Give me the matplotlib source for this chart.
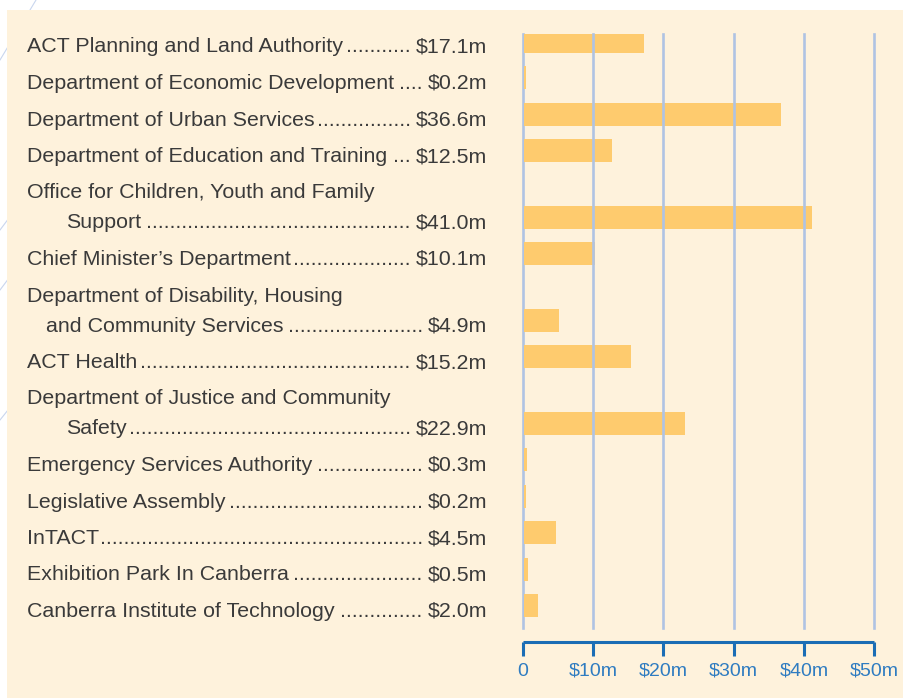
import matplotlib
matplotlib.use('Agg')
import matplotlib.pyplot as plt
from matplotlib.patches import Rectangle

# Agency names (a list entry per text line; bar sits on the last line)
agencies = [
    ['ACT Planning and Land Authority'],
    ['Department of Economic Development'],
    ['Department of Urban Services'],
    ['Department of Education and Training'],
    ['Office for Children, Youth and Family', 'Support'],
    ['Chief Minister\u2019s Department'],
    ['Department of Disability, Housing', 'and Community Services'],
    ['ACT Health'],
    ['Department of Justice and Community', 'Safety'],
    ['Emergency Services Authority'],
    ['Legislative Assembly'],
    ['InTACT'],
    ['Exhibition Park In Canberra'],
    ['Canberra Institute of Technology'],
]
indent = [0, 0, 0, 0, 39, 0, 19, 0, 39, 0, 0, 0, 0, 0]
values = [17.1, 0.2, 36.6, 12.5, 41.0, 10.1, 4.9, 15.2, 22.9, 0.3, 0.2, 4.5, 0.5, 2.0]
value_labels = ['$%.1fm' % v for v in values]
xticks = [0, 10, 20, 30, 40, 50]
xtick_labels = ['0', '$10m', '$20m', '$30m', '$40m', '$50m']

bg = '#fef2dc'
bar_color = '#fecb6e'
grid_color = '#afc3e3'
axis_color = '#1b6db5'
tick_text = '#2f7cc1'
text_color = '#3a3a3a'
font = 'Liberation Sans'
fs = 15.4

W, H = 904, 698
fig = plt.figure(figsize=(W / 100, H / 100), dpi=100)
fig.patch.set_facecolor('white')

# background layer in pixel coordinates
bgax = fig.add_axes([0, 0, 1, 1])
bgax.set_xlim(0, W)
bgax.set_ylim(H, 0)
bgax.axis('off')
for x0, y0, x1, y1 in [(36, 0, 0, 60), (30, 190, 0, 230), (30, 250, 0, 290), (20, 395, 0, 420)]:
    bgax.plot([x0, x1], [y0, y1], color='#c9d6ee', lw=0.8, zorder=0)
bgax.add_patch(Rectangle((7, 10), W - 7, H - 10, facecolor=bg, edgecolor='none', zorder=1))

# row positions from line counts
ypos = []
y = 41
for i, lines in enumerate(agencies):
    if i > 0:
        y += 36.5 + 30 * (len(lines) - 1)
    ypos.append(y)

top, bottom = 34, 628
x0px, x50px = 523, 874
ax = fig.add_axes([x0px / W, 1 - bottom / H, (x50px - x0px) / W, (bottom - top) / H])
ax.set_facecolor('none')
ax.set_xlim(0, 50)
ax.set_ylim(bottom, top)
ax.barh(ypos, values, height=23, color=bar_color, zorder=2, left=0.2)
for t in xticks:
    ax.axvline(t, color=grid_color, lw=1.9, zorder=1 if t == 0 else 3, clip_on=False)
for s in ['top', 'right', 'left']:
    ax.spines[s].set_visible(False)
ax.spines['bottom'].set_position(('outward', 10))
ax.spines['bottom'].set_color(axis_color)
ax.spines['bottom'].set_linewidth(2.2)
ax.spines['bottom'].set_bounds(0, 50)
ax.spines['bottom'].set_capstyle('butt')
ax.set_yticks([])
ax.set_xticks(xticks)
ax.set_xticklabels(xtick_labels)
ax.tick_params(axis='x', direction='out', length=10, width=2.2, color=axis_color,
               labelcolor=tick_text, labelsize=14, pad=5)
for lab in ax.get_xticklabels():
    lab.set_fontfamily(font)

# labels with dot leaders
renderer = fig.canvas.get_renderer()
val_right = 487
probe = bgax.text(0, 0, '..........', fontsize=fs, family=font)
dotw = probe.get_window_extent(renderer).width / 10
probe.remove()
for lines, ind, yv, vl in zip(agencies, indent, ypos, value_labels):
    n = len(lines)
    for k, line in enumerate(lines):
        ly = yv + 11.5 - 30 * (n - 1 - k)
        lx = 27 + (ind if k == n - 1 else 0)
        t = bgax.text(lx, ly, line, fontsize=fs, family=font, color=text_color,
                      va='baseline', ha='left', zorder=3)
    name_end = t.get_window_extent(renderer).x1
    v = bgax.text(val_right, yv + 11.5, vl, fontsize=fs, family=font, color=text_color,
                  va='baseline', ha='right', zorder=3)
    v_left = v.get_window_extent(renderer).x0
    sp = 5
    ndots = int((v_left - sp - name_end) / dotw)
    bgax.text(v_left - sp, yv + 11.5, '.' * ndots, fontsize=fs, family=font,
              color=text_color, va='baseline', ha='right', zorder=3)

fig.savefig('out.png', dpi=100, facecolor='white')
